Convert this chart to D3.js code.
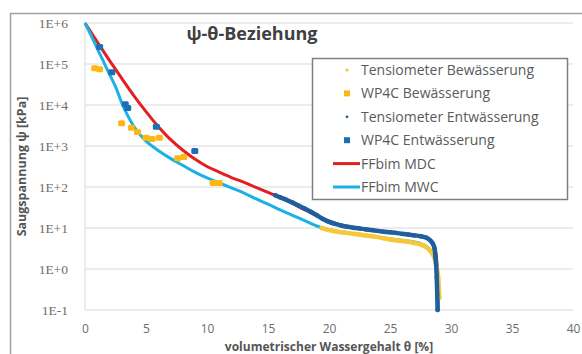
<!DOCTYPE html>
<html>
<head>
<meta charset="utf-8">
<script src="https://cdn.jsdelivr.net/npm/d3@7"></script>
<style>
  html, body { margin: 0; padding: 0; background: #fff; }
  svg { display: block; }
</style>
</head>
<body>
<svg id="chart" width="582" height="354"></svg>
<script>
// ψ-θ relation: suction (kPa, log) against volumetric water content (%)

// FFbim fitted curves: [θ %, ψ kPa]
const mdcCurve = [
  [0, 1e6], [1, 3.47e5], [2, 1.23e5], [3, 4.5e4], [4, 1.7e4], [5, 6.9e3],
  [6, 3.0e3], [7, 1.45e3], [8, 800], [9, 480], [10, 316], [11, 230],
  [12, 170], [13, 132], [14, 98], [15, 74], [16, 55], [17, 40], [18, 28],
  [19, 20], [20, 14.8], [21, 11.7], [22, 10], [23, 9.1], [24, 8.3],
  [25, 7.8], [26, 7.2], [27, 6.8], [27.6, 6.3], [28.1, 5.5], [28.5, 4.2],
  [28.75, 2.6], [28.85, 1.2], [28.9, 0.35], [28.95, 0.1]
];
const mwcCurve = [
  [0, 1e6], [0.5, 5.0e5], [1, 2.4e5], [1.5, 1.17e5], [2, 5.7e4],
  [2.5, 2.8e4], [3, 1.15e4], [3.5, 5.5e3], [4, 3.0e3], [4.5, 1.9e3],
  [5, 1.32e3], [6, 780], [7, 500], [8, 340], [9, 230], [10, 166],
  [11, 126], [12, 95], [13, 72], [14, 52], [15, 38], [16, 27.5], [17, 20.4],
  [18, 15.1], [19, 11.2], [19.7, 9.5], [20.5, 8.5], [22, 7.2], [24, 6.0],
  [26, 5.0], [27.5, 4.2], [28.2, 3.2], [28.6, 2.0], [28.8, 1.0],
  [28.9, 0.32], [28.95, 0.1]
];

// Tensiometer readings: [θ %, ψ kPa]
const tensioDrying = [
  [15.6, 63], [16.0, 56], [16.5, 49], [17.0, 42], [17.5, 35.5], [18.0, 30],
  [18.5, 25], [19.0, 20.4], [19.5, 16.6], [20.0, 14.1], [20.5, 12.6],
  [21.0, 11.5], [21.5, 10.7], [22.0, 10.2], [22.5, 9.8], [23.0, 9.3],
  [23.5, 8.9], [24.0, 8.5], [24.5, 8.1], [25.0, 7.9], [25.5, 7.6],
  [26.0, 7.2], [26.5, 6.9], [27.0, 6.6], [27.5, 6.3], [28.0, 5.8],
  [28.3, 5.0], [28.5, 4.2], [28.65, 3.2], [28.72, 2.0], [28.78, 1.26],
  [28.83, 0.63], [28.87, 0.25], [28.9, 0.1]
];
const tensioWetting = [
  [19.4, 10], [20.0, 8.9], [20.5, 8.3], [21.0, 7.9], [21.5, 7.6],
  [22.0, 7.2], [22.5, 6.9], [23.0, 6.6], [23.5, 6.3], [24.0, 6.0],
  [24.5, 5.6], [25.0, 5.25], [25.5, 5.0], [26.0, 4.8], [26.5, 4.6],
  [27.0, 4.3], [27.5, 4.0], [27.9, 3.5], [28.3, 2.8], [28.6, 2.0],
  [28.8, 1.26], [28.95, 0.63], [29.0, 0.32], [29.05, 0.2]
];

// WP4C dewpoint measurements: [θ %, ψ kPa]
const wp4cWetting = [
  [0.8, 7.9e4], [1.2, 7.4e4], [3.0, 3.6e3], [3.8, 2.8e3], [4.3, 2.2e3],
  [5.0, 1.6e3], [5.5, 1.48e3], [6.1, 1.58e3], [7.6, 500], [8.1, 540],
  [10.5, 126], [11.0, 126]
];
const wp4cDrying = [
  [1.2, 2.6e5], [2.2, 6.3e4], [3.3, 1.05e4], [3.5, 8.5e3],
  [5.85, 2.95e3], [9.0, 760]
];

// Axis ticks
const xTicks = [0, 5, 10, 15, 20, 25, 30, 35, 40];
const yTicks = [1e-1, 1e0, 1e1, 1e2, 1e3, 1e4, 1e5, 1e6];

// Legend entries
const legendLabels = [
  "Tensiometer Bewässerung", "WP4C Bewässerung", "Tensiometer Entwässerung",
  "WP4C Entwässerung", "FFbim MDC", "FFbim MWC"
];

const C = {
  red: "#e41f22", cyan: "#1cb1e6", gold: "#fdb913", yellow: "#f5c83a",
  navy: "#1f5f9e", blue: "#1f6db5", grid: "#d9d9d9", text: "#6d6d6d"
};

const svg = d3.select("#chart");
const x = d3.scaleLinear().domain([0, 40]).range([85, 573]);
const y = d3.scaleLog().domain([0.1, 1e6]).range([310, 23]);

// outer frame (top and left edges)
svg.append("path")
  .attr("d", "M10.5,354 V13.5 H582")
  .attr("fill", "none").attr("stroke", "#a0a0a0").attr("stroke-width", 1.5);

// horizontal gridlines
svg.append("g").selectAll("line").data(yTicks).join("line")
  .attr("x1", x(0)).attr("x2", x(40))
  .attr("y1", d => y(d)).attr("y2", d => y(d))
  .attr("stroke", C.grid).attr("stroke-width", 1);

// left axis line
svg.append("line")
  .attr("x1", x(0)).attr("x2", x(0)).attr("y1", y(1e6)).attr("y2", y(0.1))
  .attr("stroke", C.grid).attr("stroke-width", 1);

// y axis
const fmtY = d => {
  const e = Math.round(Math.log10(d));
  return "1E" + (e >= 0 ? "+" : "") + e;
};
const yAxis = svg.append("g")
  .attr("transform", `translate(${x(0)},0)`)
  .call(d3.axisLeft(y).tickValues(yTicks).tickFormat(fmtY).tickSize(0).tickPadding(17));
yAxis.select(".domain").remove();
yAxis.selectAll("text")
  .attr("fill", C.text).style("font-family", "'Liberation Serif', serif").style("font-size", "13.5px");

// x axis
const xAxis = svg.append("g")
  .attr("transform", `translate(0,${y(0.1)})`)
  .call(d3.axisBottom(x).tickValues(xTicks).tickFormat(d3.format("d")).tickSize(0).tickPadding(14));
xAxis.select(".domain").remove();
xAxis.selectAll("text")
  .attr("fill", C.text).style("font-family", "'Open Sans', sans-serif").style("font-size", "12px");

// axis titles
svg.append("text")
  .attr("transform", `translate(26,${(y(1e6) + y(0.1)) / 2}) rotate(-90)`)
  .attr("text-anchor", "middle")
  .attr("fill", "#555").style("font-family", "'Open Sans', sans-serif")
  .style("font-size", "12.5px").style("font-weight", "bold")
  .text("Saugspannung ψ [kPa]");
svg.append("text")
  .attr("x", (x(0) + x(40)) / 2).attr("y", 350.5)
  .attr("text-anchor", "middle")
  .attr("fill", "#555").style("font-family", "'Open Sans', sans-serif")
  .style("font-size", "12px").style("font-weight", "bold")
  .text("volumetrischer Wassergehalt θ [%]");

// chart title
svg.append("text")
  .attr("x", 252).attr("y", 40).attr("text-anchor", "middle")
  .attr("fill", "#404040").style("font-family", "'Open Sans', sans-serif")
  .style("font-size", "18px").style("font-weight", "bold")
  .text("ψ-θ-Beziehung");

const line = d3.line()
  .x(d => x(d[0])).y(d => y(d[1]))
  .curve(d3.curveCatmullRom.alpha(0.5));

// fitted curves
svg.append("path").datum(mdcCurve).attr("d", line)
  .attr("fill", "none").attr("stroke", C.red).attr("stroke-width", 3);
svg.append("path").datum(mwcCurve).attr("d", line)
  .attr("fill", "none").attr("stroke", C.cyan).attr("stroke-width", 3);

// tensiometer series: dense readings drawn as a band of markers
function tensio(data, color) {
  const g = svg.append("g");
  g.append("path").datum(data).attr("d", line)
    .attr("fill", "none").attr("stroke", color).attr("stroke-width", 4.5)
    .attr("stroke-linecap", "round");
  g.selectAll("circle").data(data).join("circle")
    .attr("cx", d => x(d[0])).attr("cy", d => y(d[1])).attr("r", 2.2)
    .attr("fill", color);
}
tensio(tensioWetting, C.yellow);
tensio(tensioDrying, C.navy);

// WP4C points
function squares(data, color) {
  svg.append("g").selectAll("rect").data(data).join("rect")
    .attr("x", d => x(d[0]) - 3.5).attr("y", d => y(d[1]) - 3)
    .attr("width", 7).attr("height", 6).attr("rx", 1.5)
    .attr("fill", color);
}
squares(wp4cWetting, C.gold);
squares(wp4cDrying, C.blue);

// legend
const lg = svg.append("g");
lg.append("rect")
  .attr("x", 312.5).attr("y", 58.5).attr("width", 255).attr("height", 141)
  .attr("fill", "#fff").attr("stroke", "#7f7f7f").attr("stroke-width", 1.5);
const rowY = i => 70 + i * 23.4;
const markers = [
  g => g.append("circle").attr("cx", 347).attr("r", 1.6).attr("fill", C.yellow),
  g => g.append("rect").attr("x", 344).attr("y", -3).attr("width", 6).attr("height", 6).attr("fill", C.gold),
  g => g.append("circle").attr("cx", 347).attr("r", 1.4).attr("fill", C.navy),
  g => g.append("rect").attr("x", 344).attr("y", -3).attr("width", 6).attr("height", 6).attr("fill", C.blue),
  g => g.append("line").attr("x1", 333).attr("x2", 360).attr("stroke", C.red).attr("stroke-width", 3),
  g => g.append("line").attr("x1", 333).attr("x2", 360).attr("stroke", C.cyan).attr("stroke-width", 3)
];
legendLabels.forEach((label, i) => {
  const row = lg.append("g").attr("transform", `translate(0,${rowY(i)})`);
  markers[i](row);
  row.append("text").attr("x", 361).attr("y", 5)
    .attr("fill", "#5a5a5a").style("font-family", "'Open Sans', sans-serif")
    .style("font-size", "14px").text(label);
});
</script>
</body>
</html>
